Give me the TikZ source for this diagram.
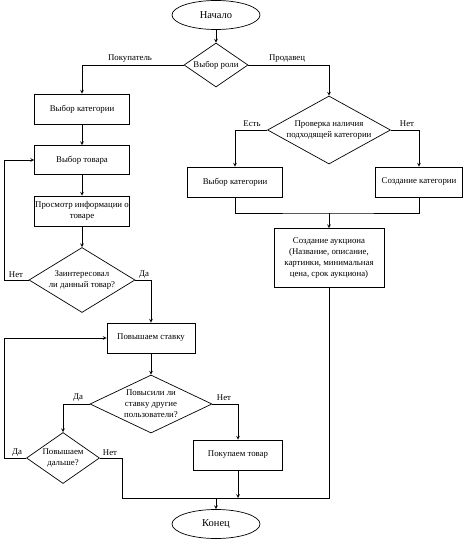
\documentclass[tikz,border=0pt]{standalone}
\usepackage{fontspec}
\setmainfont{Liberation Serif}
\usetikzlibrary{shapes}
\usetikzlibrary{arrows}
\usetikzlibrary{positioning}
\usetikzlibrary{calc}
\newcommand{\flowtxt}{\fontsize{8.8}{11}\selectfont}
\newcommand{\flowbig}{\fontsize{10.5}{12}\selectfont}

\begin{document}
\begin{tikzpicture}[x=1pt,y=-1pt,
  dep/.style ={
    ->,>=stealth,line width=0.7pt
  },
  wire/.style ={
    line width=0.7pt
  },
  term/.style 2 args={
    ellipse,
    draw,
    line width=0.7pt,
    minimum width=#1,
    minimum height=#2,
    inner sep=0pt},
  proc/.style 2 args={
    rectangle,
    draw,
    line width=0.7pt,
    minimum width=#1,
    minimum height=#2,
    inner sep=0pt},
  cond/.style 2 args={
    diamond,
    draw,
    line width=0.7pt,
    minimum width=#1,
    minimum height=#2,
    inner sep=0pt},
  txt/.style={
    font=\flowtxt,
    align=center,
    inner sep=0pt},
]
  \useasboundingbox (0,0) rectangle (464,540);

  \def\colL{82}%
  \def\colM{151}%
  \def\colR{329}%

    % Start and role
    \node[term={88}{29}] (start) at (216,15) {};
    \node[txt,font=\flowbig] (start-t) at (216,15) {Начало};
    \node[cond={64}{44}] (role) at (216,65) {};
    \node[txt] (role-t) at (216,65) {Выбор роли};

    % Buyer branch
    \node[proc={95}{30}] (catL) at (\colL,109) {};
    \node[txt] (catL-t) at (\colL,109) {Выбор категории};
    \node[proc={95}{29}] (item) at (\colL,160) {};
    \node[txt] (item-t) at (\colL,160) {Выбор товара};
    \node[proc={95}{30}] (info) at (\colL,211) {};
    \node[txt] (info-t) at (\colL,211) {Просмотр информации о\\товаре};
    \node[cond={106}{65}] (like) at (\colL,280) {};
    \node[txt] (like-t) at (\colL,280) {Заинтересовал\\ли данный товар?};

    \node[proc={88}{30}] (bid) at (\colM,338) {};
    \node[txt] (bid-t) at (\colM,338) {Повышаем ставку};
    \node[cond={122}{58}] (other) at (\colM,404) {};
    \node[txt] (other-t) at (\colM,404) {Повысили ли\\ставку другие\\пользователи?};
    \node[cond={73}{51}] (more) at (63,458) {};
    \node[txt] (more-t) at (63,458) {Повышаем\\дальше?};
    \node[proc={89}{30}] (buy) at (238,455) {};
    \node[txt] (buy-t) at (238,455) {Покупаем товар};

    % Seller branch
    \node[cond={123}{68}] (check) at (\colR,130) {};
    \node[txt] (check-t) at (\colR,130) {Проверка наличия\\подходящей категории};
    \node[proc={95}{30}] (catR) at (235,182) {};
    \node[txt] (catR-t) at (235,182) {Выбор категории};
    \node[proc={87}{30}] (catNew) at (419,182) {};
    \node[txt] (catNew-t) at (419,182) {Создание категории};
    \node[proc={110}{59}] (auction) at (\colR,258) {};
    \node[txt] (auction-t) at (\colR,258)
        {Создание аукциона\\(Название, описание,\\картинки, минимальная\\цена, срок аукциона)};

    % End
    \node[term={88}{29}] (end) at (216,524) {};
    \node[txt,font=\flowbig] (end-t) at (216,524) {Конец};

    \coordinate (merge) at (\colR,213);
    \coordinate (join) at (216,498);

    \draw[dep] (start.south) -- (role.north);
    \draw[dep] (role.west) -| (catL.north);
    \draw[dep] (role.east) -| (check.north);

    \draw[dep] (catL.south) -- (item.north);
    \draw[dep] (item.south) -- (info.north);
    \draw[dep] (info.south) -- (like.north);
    \draw[dep] (like.west) -- ++(-24,0) |- (item.west);
    \draw[dep] (like.east) -| (bid.north);
    \draw[dep] (bid.south) -- (other.north);
    \draw[dep] (other.west) -| (more.north);
    \draw[dep] (other.east) -| (buy.north);
    \draw[dep] (more.west) -- ++(-22,0) |- (bid.west);

    \draw[dep] (check.west) -| (catR.north);
    \draw[dep] (check.east) -| (catNew.north);
    \draw[wire] (catR.south) |- (merge) -| (catNew.south);
    \draw[dep] (merge) -- (auction.north);

    \draw[wire] (auction.south) |- (join);
    \draw[wire] (more.east) -- ++(22,0) |- (join);
    \draw[dep] (buy.south) -- (buy.south |- join);
    \draw[dep] (join) -- (end.north);

    % Edge labels
    \node[txt] (l-buyer) at (130,59) {Покупатель};
    \node[txt] (l-seller) at (287,59) {Продавец};
    \node[txt] (l-have) at (252,124) {Есть};
    \node[txt] (l-nohave) at (407,124) {Нет};
    \node[txt] (l-likeno) at (16,275) {Нет};
    \node[txt] (l-likeyes) at (144,275) {Да};
    \node[txt] (l-otheryes) at (78,398) {Да};
    \node[txt] (l-otherno) at (224,398) {Нет};
    \node[txt] (l-moreyes) at (17,453) {Да};
    \node[txt] (l-moreno) at (110,453) {Нет};

\end{tikzpicture}
\end{document}
